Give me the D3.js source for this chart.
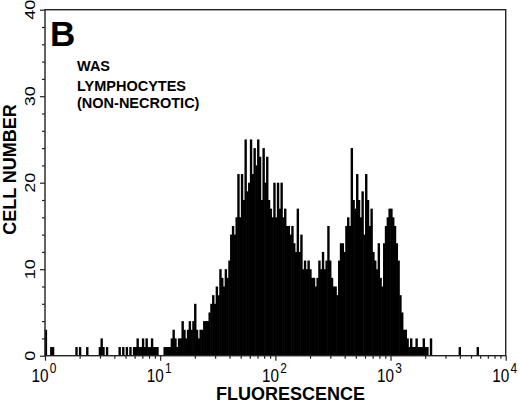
<!DOCTYPE html>
<html><head><meta charset="utf-8">
<script src="https://cdn.jsdelivr.net/npm/d3@7"></script>
<style>
body{margin:0;background:#fff}
svg{display:block}
text{font-family:"Liberation Sans",Arial,Helvetica,sans-serif;fill:#000}
</style>
</head><body>
<svg id="c" width="520" height="403"></svg>
<script>
// Histogram counts, 64 channels per decade of fluorescence (10^0 .. 10^4)
const decade0 = [3,0,0,1,1,0,0,0,0,0,0,0,0,0,0,0, 0,1,0,1,0,0,0,1,0,0,0,0,0,0,1,2, 1,0,1,0,0,0,0,0,0,1,0,1,0,1,0,1, 0,1,1,2,1,1,2,1,2,1,1,2,1,1,1,0];
const decade1 = [0,0,1,1,1,1,2,3,2,1,2,2,4,3,2,3, 4,3,4,6,3,2,3,3,4,4,4,5,6,7,6,8, 7,10,9,8,10,9,11,14,15,14,16,21,16,21,18,25, 19,20,25,21,24,22,25,23,18,24,20,23,18,17,16,20];
const decade2 = [16,20,17,20,16,17,15,15,14,15,13,12,17,12,14,10, 11,10,11,10,9,9,8,9,11,10,12,10,11,15,11,9, 8,8,7,11,13,13,12,15,16,15,24,18,17,21,18,16, 19,14,21,18,15,17,12,11,10,13,9,8,13,15,16,17];
const decade3 = [17,16,15,13,11,7,5,3,3,2,1,2,1,1,2,1, 1,1,2,1,1,0,2,0,0,0,0,0,0,0,0,0, 0,0,0,0,0,0,1,0,0,0,0,0,0,0,0,0, 1,0,0,0,0,0,0,0,0,0,0,0,0,0,0,0];
const counts = decade0.concat(decade1, decade2, decade3);
const channelsPerDecade = 64;
const xTickExponents = [0, 1, 2, 3, 4];
const xMinorMultipliers = [2, 3, 4, 5, 6, 7, 8, 9];
const yTickValues = [0, 10, 20, 30, 40];
const yMinorValues = [2,4,6,8,12,14,16,18,22,24,26,28,32,34,36,38];
const xTitle = "FLUORESCENCE";
const yTitle = "CELL NUMBER";
const panelLetter = "B";
const annotation = ["WAS", "LYMPHOCYTES", "(NON-NECROTIC)"];

const L = 45, T = 9.7, R = 505.7, B = 355.7;
const svg = d3.select("#c");
const x = d3.scaleLog().domain([1, 1e4]).range([L, R]);
const y = d3.scaleLinear().domain([0, 40]).range([B, T]);

// bars (slightly widened so neighbouring channels merge into a solid mass)
const bins = counts.map((c, i) => ({lo: Math.pow(10, i / channelsPerDecade), hi: Math.pow(10, (i + 1) / channelsPerDecade), c}))
  .filter(d => d.c > 0);
svg.append("g").selectAll("rect").data(bins).join("rect")
  .attr("x", d => x(d.lo) - 0.3)
  .attr("width", d => x(d.hi) - x(d.lo) + 0.6)
  .attr("y", d => y(d.c))
  .attr("height", d => y(0) - y(d.c))
  .attr("fill", "#000");

// frame
svg.append("rect").attr("x", L).attr("y", T).attr("width", R - L).attr("height", B - T)
  .attr("fill", "none").attr("stroke", "#222").attr("stroke-width", 1.4);

// x axis ticks
const xMinor = [];
for (let k = 0; k < 4; k++) xMinorMultipliers.forEach(m => xMinor.push(m * Math.pow(10, k)));
const gxMaj = svg.append("g").attr("transform", `translate(0,${B})`)
  .call(d3.axisBottom(x).tickValues(xTickExponents.map(e => Math.pow(10, e))).tickSize(5).tickFormat(""));
const gxMin = svg.append("g").attr("transform", `translate(0,${B})`)
  .call(d3.axisBottom(x).tickValues(xMinor).tickSize(3).tickFormat(""));
// y axis ticks
const gyMaj = svg.append("g").attr("transform", `translate(${L},0)`)
  .call(d3.axisLeft(y).tickValues(yTickValues).tickSize(5).tickFormat(""));
const gyMin = svg.append("g").attr("transform", `translate(${L},0)`)
  .call(d3.axisLeft(y).tickValues(yMinorValues).tickSize(3).tickFormat(""));
[gxMaj, gxMin, gyMaj, gyMin].forEach(g => {
  g.select(".domain").remove();
  g.selectAll("line").attr("stroke", "#222").attr("stroke-width", 1.2);
});

// x tick labels: 10^n
xTickExponents.forEach(e => {
  const t = svg.append("text")
    .attr("transform", `translate(${x(Math.pow(10, e)) - 1},381.5) scale(0.85,1)`)
    .attr("text-anchor", "middle").attr("font-size", 18);
  t.append("tspan").text("10");
  t.append("tspan").attr("dx", 1.5).attr("dy", -9).attr("font-size", 14).text(String(e));
});

// y tick labels, rotated
yTickValues.forEach(v => {
  svg.append("text")
    .attr("transform", `translate(35,${y(v)}) rotate(-90) scale(1,0.78)`)
    .attr("text-anchor", "middle").attr("font-size", 18)
    .text(String(v));
});

// titles
svg.append("text").attr("x", 290.5).attr("y", 400).attr("text-anchor", "middle")
  .attr("font-size", 18).attr("font-weight", "bold").text(xTitle);
svg.append("text").attr("transform", "translate(15.5,169.5) rotate(-90)").attr("text-anchor", "middle")
  .attr("font-size", 18).attr("font-weight", "bold").text(yTitle);

// panel letter & annotation
svg.append("text").attr("x", 50).attr("y", 45.5).attr("font-size", 35).attr("font-weight", "bold").text(panelLetter);
const annY = [71, 91, 107.5];
annotation.forEach((s, i) => {
  svg.append("text").attr("x", 77).attr("y", annY[i]).attr("font-size", 14.5).attr("font-weight", "bold").text(s);
});
</script>
</body></html>
